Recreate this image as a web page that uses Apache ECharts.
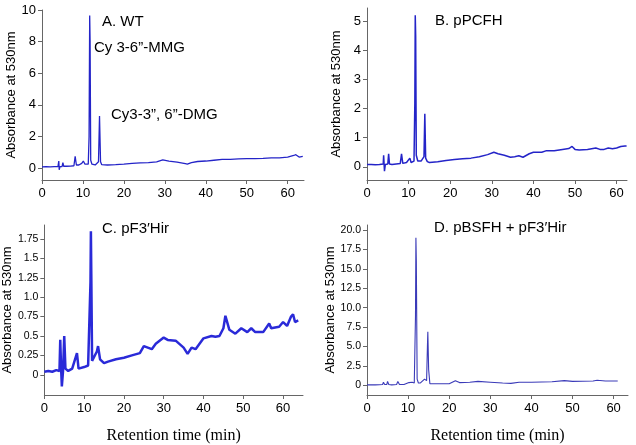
<!DOCTYPE html>
<html><head><meta charset="utf-8">
<script src="https://cdn.jsdelivr.net/npm/echarts@6/dist/echarts.min.js"></script>
<style>html,body{margin:0;padding:0;background:#fff}#c{width:636px;height:445px}</style>
</head><body><div id="c"></div>
<script>
// Panel A: WT
var tA = [0,1,2,3,3.9,4.1,4.2,4.4,4.9,5.1,5.3,6,7,7.8,8.1,8.4,9,9.7,10.1,10.5,11.3,11.5,11.65,11.75,11.9,12.2,13,13.8,14.05,14.3,14.6,16,18,20,22,24,26,28,29.5,31,33,35,35.5,36.5,38,40,42,44,46,48,50,52,54,56,58,60,61.5,62,62.8,63.7];
var vA = [0.08,0.1,0.08,0.1,0.1,0.45,-0.1,0.1,0.1,0.35,0.12,0.12,0.13,0.15,0.75,0.2,0.2,0.3,0.45,0.25,0.25,2,9.65,8,0.5,0.25,0.2,0.4,3.3,0.4,0.22,0.2,0.22,0.25,0.3,0.33,0.35,0.4,0.52,0.45,0.38,0.28,0.25,0.35,0.42,0.45,0.5,0.55,0.55,0.58,0.6,0.6,0.62,0.65,0.65,0.7,0.8,0.85,0.7,0.75];
// Panel B: pPCFH
var tB = [0,1,2,3,3.9,4.0,4.2,4.4,5.0,5.2,5.4,6,7,8,8.3,8.6,9.5,10.3,10.6,11.3,11.5,11.6,11.7,11.85,12.2,13,13.7,13.9,14.1,14.5,15,17,19,21,23,25,27,29,30.5,31.5,33,34.5,35.5,36.5,37.5,39,40,42,43,45,47,48.5,49.3,50,51,53,55,56,57,58,59,60,61,62,62.4];
var vB = [0.08,0.08,0.07,0.08,0.1,0.4,-0.15,0.08,0.1,0.45,0.1,0.08,0.1,0.12,0.45,0.12,0.15,0.3,0.15,0.2,2.2,5.2,4.5,0.4,0.2,0.2,0.35,1.82,0.3,0.18,0.15,0.18,0.22,0.25,0.28,0.3,0.35,0.42,0.5,0.45,0.4,0.33,0.35,0.38,0.33,0.45,0.5,0.5,0.55,0.55,0.6,0.63,0.7,0.6,0.58,0.6,0.65,0.6,0.6,0.65,0.62,0.65,0.7,0.72,0.72];
// Panel C: pF3'Hir
var tC = [0,1,2,3,3.8,4.0,4.2,4.4,4.7,5.0,5.3,6,7,7.5,8.2,8.6,9,10,11,11.4,11.6,11.7,11.8,12,12.5,13.2,13.5,14,15,16,18,20,22,24,25,26,27,28,30,31,33,35,36,37,38,40,42,43,44,45,45.5,46.5,48,49.5,51,52,53,55,56.5,57,59,60,61,62,62.5,63,63.8];
var vC = [0.04,0.05,0.04,0.06,0.05,0.45,0.1,-0.15,0.05,0.5,0.08,0.05,0.08,0.06,0.28,0.08,0.1,0.1,0.12,0.12,1.2,1.85,1.3,0.18,0.2,0.3,0.37,0.2,0.15,0.17,0.2,0.22,0.25,0.28,0.37,0.35,0.33,0.4,0.48,0.45,0.44,0.35,0.27,0.35,0.33,0.47,0.5,0.49,0.5,0.6,0.76,0.58,0.53,0.6,0.55,0.6,0.55,0.55,0.66,0.6,0.62,0.68,0.63,0.75,0.78,0.68,0.7];
// Panel D: pBSFH + pF3'Hir
var tD = [0,1,2,3,3.8,4.0,4.3,4.8,5.0,5.3,6,7.2,7.5,7.9,9,10.2,10.5,11,11.5,11.8,11.9,12.0,12.2,12.5,13,14.0,14.2,14.5,14.7,14.8,15.0,15.3,16,18,20,21.5,22.5,25,27,30,33,35,37,40,45,48,50,55,56,58,61];
var vD = [0.05,0.05,0.05,0.08,0.1,0.4,0.1,0.1,0.5,0.1,0.05,0.1,0.5,0.1,0.1,0.35,0.2,0.4,0.3,9,19,16,0.8,0.3,0.3,0.8,1.0,0.6,5,6.9,2,0.2,0.2,0.2,0.2,0.6,0.35,0.4,0.5,0.4,0.3,0.25,0.4,0.4,0.45,0.6,0.5,0.55,0.65,0.55,0.55];

var xTicks = [0,10,20,30,40,50,60];
var yTicksA = [0,2,4,6,8,10];
var yTicksB = [0,1,2,3,4,5];
var yTicksC = [0,0.25,0.5,0.75,1.0,1.25,1.5,1.75];
var yTicksD = [0,2.5,5.0,7.5,10.0,12.5,15.0,17.5,20.0];

function zip(t,v){return t.map(function(x,i){return [x,v[i]];});}
var axisCol = '#666';
function xAx(i,max,named){
  return {type:'value',gridIndex:i,min:0,max:max,
    axisLine:{onZero:false,lineStyle:{color:axisCol,width:1}},
    axisTick:{show:true,length:4,customValues:xTicks,lineStyle:{color:axisCol}},
    splitLine:{show:false},
    axisLabel:{color:'#000',fontFamily:'Arial',fontSize:13,margin:7,customValues:xTicks},
    name: named?'Retention time (min)':'',nameLocation:'middle',nameGap:33,
    nameTextStyle:{fontFamily:'Liberation Serif',fontSize:16,color:'#000'}};
}
function yAx(i,min,max,ticks,fs,dec,gap){
  return {type:'value',gridIndex:i,min:min,max:max,
    axisLine:{show:true,lineStyle:{color:axisCol,width:1}},
    axisTick:{show:true,length:4,customValues:ticks,lineStyle:{color:axisCol}},
    splitLine:{show:false},
    axisLabel:{color:'#000',fontFamily:'Arial',fontSize:fs,margin:6,customValues:ticks,
      formatter:function(v){ if(v===0) return '0'; return dec? (dec(v)) : String(v);}},
    name:'Absorbance at 530nm',nameLocation:'middle',nameGap:gap,
    nameTextStyle:{fontFamily:'Arial',fontSize:13,color:'#000'}};
}
var lineCol = '#2424c8';
var chart = echarts.init(document.getElementById('c'),null,{renderer:'canvas'});
chart.setOption({
  animation:false,
  backgroundColor:'#fff',
  grid:[
    {left:42,top:10,width:262,height:170},
    {left:367,top:8,width:260,height:172},
    {left:42,top:225,width:261,height:170},
    {left:367,top:225,width:261,height:172}
  ],
  xAxis:[xAx(0,64,false),xAx(1,62.5,false),xAx(2,65,true),xAx(3,63.5,true)],
  yAxis:[
    yAx(0,-0.75,10,yTicksA,13,null,24),
    yAx(1,-0.45,5.45,yTicksB,13,null,24),
    yAx(2,-0.26,1.93,yTicksC,10.5,function(v){return (v===1||v===0.5)?v.toFixed(1):String(v);},30),
    yAx(3,-1.25,20.65,yTicksD,10.5,function(v){return v.toFixed(1);},30)
  ],
  series:[
    {type:'line',xAxisIndex:0,yAxisIndex:0,data:zip(tA,vA),showSymbol:false,lineStyle:{color:lineCol,width:1.3}},
    {type:'line',xAxisIndex:1,yAxisIndex:1,data:zip(tB,vB),showSymbol:false,lineStyle:{color:lineCol,width:1.5}},
    {type:'line',xAxisIndex:2,yAxisIndex:2,data:zip(tC,vC),showSymbol:false,lineStyle:{color:'#2a2ad8',width:2.5}},
    {type:'line',xAxisIndex:3,yAxisIndex:3,data:zip(tD,vD),showSymbol:false,lineStyle:{color:'#3a3ab8',width:1.1}}
  ],
  graphic:[
    {type:'text',left:102,top:14,style:{text:'A. WT',font:'15px Arial',fill:'#000'}},
    {type:'text',left:94,top:40,style:{text:'Cy 3-6”-MMG',font:'15px Arial',fill:'#000'}},
    {type:'text',left:111,top:107,style:{text:'Cy3-3”, 6”-DMG',font:'15px Arial',fill:'#000'}},
    {type:'text',left:435,top:13,style:{text:'B. pPCFH',font:'15px Arial',fill:'#000'}},
    {type:'text',left:102,top:221,style:{text:'C. pF3′Hir',font:'15px Arial',fill:'#000'}},
    {type:'text',left:434,top:220,style:{text:'D. pBSFH + pF3′Hir',font:'15px Arial',fill:'#000'}}
  ]
});
</script></body></html>
